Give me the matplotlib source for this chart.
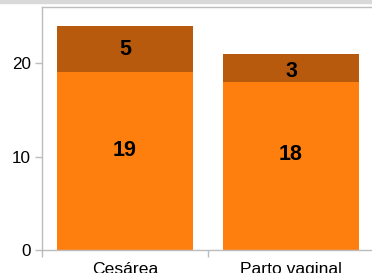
import numpy as np
import matplotlib.pyplot as plt
from matplotlib.patches import Rectangle

plt.rcParams['font.family'] = ['Liberation Sans', 'DejaVu Sans']

categorias = ['Cesárea', 'Parto vaginal']
abajo = [19, 18]
arriba = [5, 3]
yticks = [0, 10, 20]

c_abajo = '#ff7f0e'
c_arriba = '#b85a0d'
gris = '#bcbcbc'

fig = plt.figure(figsize=(3.72, 2.73), dpi=100)
fig.patches.append(Rectangle((0, 1 - 2.5/273), 1, 2.5/273, transform=fig.transFigure,
                             color='#d9d9d9', zorder=0))
ax = fig.add_axes([42/372, 1 - 250/273, 332/372, 243/273])

x = np.arange(len(categorias))
ancho = 0.82
b1 = ax.bar(x, abajo, ancho, color=c_abajo, zorder=2)
b2 = ax.bar(x, arriba, ancho, bottom=abajo, color=c_arriba, zorder=2)

# etiquetas de valores (desplazamiento vertical en puntos)
desp_abajo = [8, 8.5]
desp_arriba = [0, -2.5]
for i in range(len(categorias)):
    ax.annotate(str(abajo[i]), (x[i], abajo[i]/2), xytext=(0, desp_abajo[i]),
                textcoords='offset points', ha='center', va='center',
                fontsize=15.5, fontweight='bold', color='black')
    ax.annotate(str(arriba[i]), (x[i], abajo[i] + arriba[i]/2), xytext=(0, desp_arriba[i]),
                textcoords='offset points', ha='center', va='center',
                fontsize=15.5, fontweight='bold', color='black')

ax.set_xlim(-0.5, len(categorias) - 0.5)
ax.set_ylim(0, 26)
ax.set_yticks(yticks)
ax.set_xticks(np.arange(len(categorias) + 1) - 0.5)
ax.set_xticklabels([])
ax.set_xticks(x, minor=True)
ax.set_xticklabels(categorias, minor=True)

for s in ax.spines.values():
    s.set_color(gris)
    s.set_linewidth(1)
ax.tick_params(axis='y', length=5, width=1, color=gris, pad=3, labelsize=12.3, labelcolor='black')
ax.tick_params(axis='x', which='major', length=5, width=1, color=gris)
ax.tick_params(axis='x', which='minor', length=0, pad=8.5, labelsize=12.6, labelcolor='black')

fig.savefig('out.png', dpi=100)
